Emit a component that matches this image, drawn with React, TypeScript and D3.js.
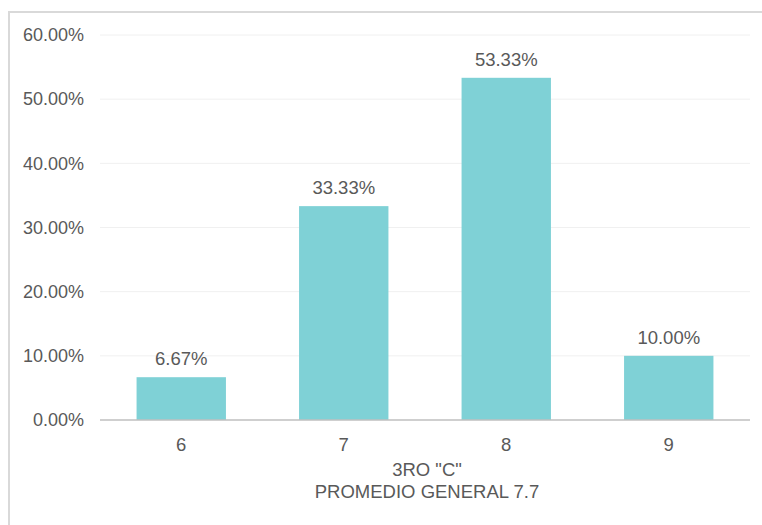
import React, { useEffect, useRef } from "react";
import * as d3 from "d3";

// datos del gráfico
const categorias = ["6", "7", "8", "9"];
const porcentajes = [6.67, 33.33, 53.33, 10.0];
const ticksY = [0, 10, 20, 30, 40, 50, 60];
const titulo = ['3RO "C"', "PROMEDIO GENERAL 7.7"];

const W = 762;
const H = 525;

const App = () => {
  const ref = useRef<SVGSVGElement | null>(null);

  useEffect(() => {
    if (!ref.current) return;
    const svg = d3.select(ref.current);
    svg.selectAll("*").remove();

    const font = "'Liberation Sans', Arial, sans-serif";
    const gris = "#595959";

    // marco
    svg.append("rect")
      .attr("x", 9)
      .attr("y", 12)
      .attr("width", W + 20)
      .attr("height", H + 20)
      .attr("fill", "#fff")
      .attr("stroke", "#d9d9d9")
      .attr("stroke-width", 2);

    const x = d3.scaleBand()
      .domain(categorias)
      .range([100, 750])
      .paddingInner(0.45)
      .paddingOuter(0.225);

    const y = d3.scaleLinear().domain([0, 60]).range([420, 35]);

    // grid
    svg.append("g")
      .selectAll("line")
      .data(ticksY.filter((t) => t > 0))
      .enter()
      .append("line")
      .attr("x1", 100)
      .attr("x2", 750)
      .attr("y1", (d) => y(d))
      .attr("y2", (d) => y(d))
      .attr("stroke", "#f0f0f0")
      .attr("stroke-width", 1);

    // etiquetas eje y
    svg.append("g")
      .selectAll("text")
      .data(ticksY)
      .enter()
      .append("text")
      .attr("x", 84)
      .attr("y", (d) => y(d))
      .attr("dy", "0.35em")
      .attr("text-anchor", "end")
      .style("font-family", font)
      .style("font-size", "18px")
      .style("fill", gris)
      .text((d) => d.toFixed(2) + "%");

    // barras
    svg.append("g")
      .selectAll("rect")
      .data(porcentajes)
      .enter()
      .append("rect")
      .attr("x", (d, i) => x(categorias[i]) as number)
      .attr("y", (d) => y(d))
      .attr("width", x.bandwidth())
      .attr("height", (d) => y(0) - y(d))
      .attr("fill", "#7fd1d6");

    // valores
    svg.append("g")
      .selectAll("text")
      .data(porcentajes)
      .enter()
      .append("text")
      .attr("x", (d, i) => (x(categorias[i]) as number) + x.bandwidth() / 2)
      .attr("y", (d) => y(d) - 12)
      .attr("text-anchor", "middle")
      .style("font-family", font)
      .style("font-size", "18.5px")
      .style("fill", gris)
      .text((d) => d.toFixed(2) + "%");

    // eje x
    svg.append("line")
      .attr("x1", 100)
      .attr("x2", 750)
      .attr("y1", y(0))
      .attr("y2", y(0))
      .attr("stroke", "#bfbfbf")
      .attr("stroke-width", 1.5);

    svg.append("g")
      .selectAll("text")
      .data(categorias)
      .enter()
      .append("text")
      .attr("x", (d) => (x(d) as number) + x.bandwidth() / 2)
      .attr("y", 451)
      .attr("text-anchor", "middle")
      .style("font-family", font)
      .style("font-size", "18.5px")
      .style("fill", gris)
      .text((d) => d);

    // título del eje
    svg.append("g")
      .selectAll("text")
      .data(titulo)
      .enter()
      .append("text")
      .attr("x", 427)
      .attr("y", (d, i) => 476 + i * 22)
      .attr("text-anchor", "middle")
      .style("font-family", font)
      .style("font-size", "18.5px")
      .style("fill", gris)
      .text((d) => d);
  }, []);

  return (
    <svg
      ref={ref}
      width={W}
      height={H}
      style={{ position: "absolute", left: 0, top: 0, background: "#fff" }}
    />
  );
};

export default App;
